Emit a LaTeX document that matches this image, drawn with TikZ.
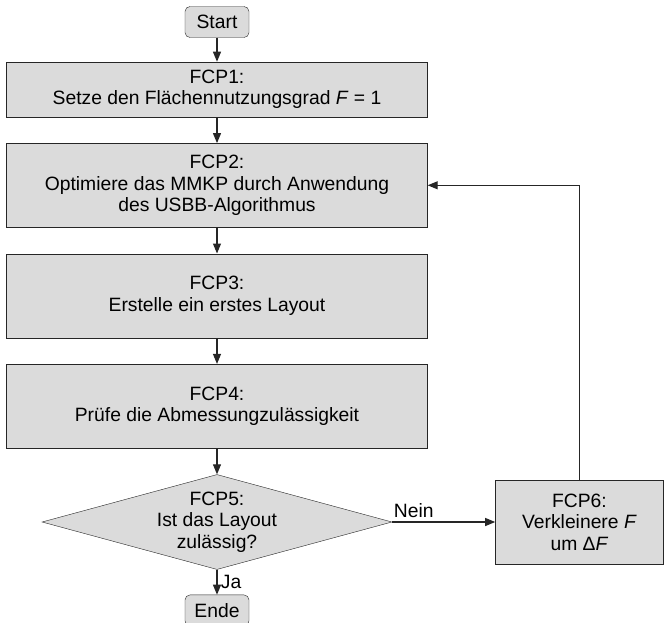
\documentclass[tikz,border=0pt]{standalone}
\usepackage{fontspec}
\setmainfont{Liberation Sans}
\usetikzlibrary{positioning,arrows.meta,shapes.geometric}

\begin{document}
\begin{tikzpicture}[
  x=1pt,y=-1pt,
  node distance=26pt,
  font=\fontsize{19.3}{21.5}\selectfont,
  box/.style={rectangle,draw=black!85,fill=black!14,align=center,minimum width=421pt,minimum height=84pt,inner sep=0pt},
  term/.style={rectangle,draw=black!85,fill=black!14,rounded corners=5pt,minimum width=64pt,minimum height=31pt,inner sep=0pt},
  decision/.style={diamond,draw=black!85,fill=black!14,aspect=3.7,align=center,inner sep=-2pt,minimum width=350pt,minimum height=95pt},
  arrow/.style={-{Triangle[length=10pt,width=8pt]},line width=1.1pt,draw=black!85}
]
\useasboundingbox (0,0) rectangle (664,622);
\node[term] (start) at (217,22) {Start};
\node[box,below=24pt of start,minimum height=55pt] (fcp1) {FCP1:\\Setze den Flächennutzungsgrad \textit{F} = 1};
\node[box,below=of fcp1] (fcp2) {FCP2:\\Optimiere das MMKP durch Anwendung\\des USBB-Algorithmus};
\node[box,below=of fcp2] (fcp3) {FCP3:\\Erstelle ein erstes Layout};
\node[box,below=of fcp3] (fcp4) {FCP4:\\Prüfe die Abmessungzulässigkeit};
\node[decision,below=of fcp4] (fcp5) {FCP5:\\Ist das Layout\\zulässig?};
\node[box,right=103pt of fcp5,minimum width=168pt] (fcp6) {FCP6:\\Verkleinere \textit{F}\\um Δ\textit{F}};
\node[term,below=25pt of fcp5] (ende) {Ende};
\draw[arrow] (start)--(fcp1);
\draw[arrow] (fcp1)--(fcp2);
\draw[arrow] (fcp2)--(fcp3);
\draw[arrow] (fcp3)--(fcp4);
\draw[arrow] (fcp4)--(fcp5);
\draw[arrow] (fcp5)--node[above,pos=0.21]{Nein}(fcp6);
\draw[arrow] (fcp5)--node[right]{Ja}(ende);
\draw[arrow] (fcp6.north) |- (fcp2.east);
\end{tikzpicture}
\end{document}
